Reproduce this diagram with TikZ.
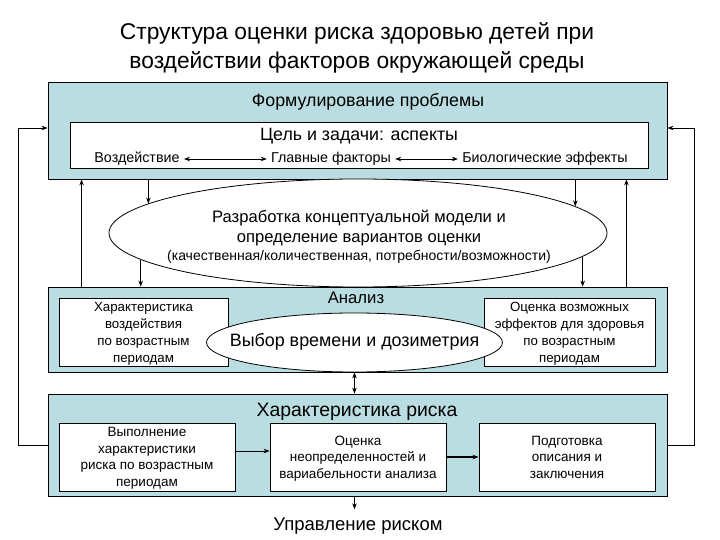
\documentclass[tikz,border=0pt]{standalone}
\usepackage{fontspec}
\setmainfont{Liberation Sans}
\usetikzlibrary{arrows.meta,shapes.geometric}
\definecolor{panel}{RGB}{185,221,224}

\begin{document}
\begin{tikzpicture}[x=1pt, y=-1pt, line width=0.8pt, >={Stealth[length=6pt,width=4.5pt]},
		panelbox/.style={draw, fill=panel, minimum width=619pt, inner sep=0pt},
		whitebox/.style={draw, fill=white, inner sep=0pt, align=center, text depth=0pt, font=\fontsize{13.5}{16.5}\selectfont},
		oval/.style={ellipse, draw, fill=white, inner sep=0pt},
		heading/.style={inner sep=2pt, font=\fontsize{17.8}{21}\selectfont},
		rowtext/.style={inner sep=4pt, font=\fontsize{14.3}{17}\selectfont}]
	\useasboundingbox (0, 0) rectangle (720, 540);
	\draw (357, 47.5) node [align=center, font=\fontsize{22.8}{29}\selectfont] (title) {Структура оценки риска здоровью детей при\\воздействии факторов окружающей среды};
	\draw (357.5, 130.5) node [panelbox, minimum height=97pt] (problem) {};
	\draw (368, 102) node [heading] (problemtitle) {Формулирование проблемы};
	\draw (359, 145) node [whitebox, minimum width=578pt, minimum height=46pt] (goals) {};
	\draw (359, 136) node [heading] (goalstitle) {Цель и задачи: аспекты};
	\draw (137, 159) node [rowtext] (exposure) {Воздействие};
	\draw (331, 159) node [rowtext] (factors) {Главные факторы};
	\draw (545, 159) node [rowtext] (bioeffects) {Биологические эффекты};
	\path [<->] (exposure) edge (factors);
	\path [<->] (factors) edge (bioeffects);
	\draw (358, 233) node [oval, minimum width=498pt, minimum height=108pt] (model) {};
	\draw (359, 237) node [align=center, font=\fontsize{16.6}{19.5}\selectfont] (modeltext) {Разработка концептуальной модели и\\определение вариантов оценки\\[-1pt]{\fontsize{14}{16}\selectfont(качественная/количественная, потребности/возможности)}};
	\path [->] (model.172.5 |- problem.south) edge (model.172.5);
	\path [->] (model.7.5 |- problem.south) edge (model.7.5);
	\draw (357.5, 329.5) node [panelbox, minimum height=85pt] (analysis) {};
	\path [->] (model.187.5) edge (model.187.5 |- analysis.north);
	\path [->] (model.354) edge (model.354 |- analysis.north);
	\path [->] ([xshift=34pt]analysis.north west) edge ([xshift=34pt]problem.south west);
	\path [->] ([xshift=-41pt]analysis.north east) edge ([xshift=-41pt]problem.south east);
	\draw (356, 298) node [heading, font=\fontsize{16.7}{20}\selectfont] (analysistitle) {Анализ};
	\draw (143.5, 332) node [whitebox, minimum width=169pt, minimum height=68pt, font=\fontsize{13.3}{17}\selectfont] (exposurebox) {Характеристика\\воздействия\\по возрастным\\периодам};
	\draw (569.5, 332) node [whitebox, minimum width=171pt, minimum height=68pt, font=\fontsize{13.3}{17}\selectfont] (healthbox) {Оценка возможных\\эффектов для здоровья\\по возрастным\\периодам};
	\draw (354.5, 342.5) node [oval, minimum width=296pt, minimum height=59pt] (timing) {};
	\draw (354.5, 342) node [font=\fontsize{17.9}{21}\selectfont] (timingtext) {Выбор времени и дозиметрия};
	\draw (357.5, 445) node [panelbox, minimum height=102pt] (risk) {};
	\draw (357, 412) node [heading, font=\fontsize{19.4}{22}\selectfont] (risktitle) {Характеристика риска};
	\draw (147, 457) node [whitebox, minimum width=176pt, minimum height=68pt] (riskcalc) {Выполнение\\характеристики\\риска по возрастным\\периодам};
	\draw (358, 457) node [whitebox, minimum width=176pt, minimum height=68pt] (uncertainty) {Оценка\\неопределенностей и\\вариабельности анализа};
	\draw (567, 457) node [whitebox, minimum width=176pt, minimum height=68pt] (summary) {Подготовка\\описания и\\заключения};
	\path [->] ([yshift=6pt]riskcalc.east) edge ([yshift=6pt]uncertainty.west);
	\path [->, line width=1.6pt] (uncertainty) edge (summary);
	\path [<->] (analysis.south -| timing) edge (risk.north -| timing);
	\draw (358, 526) node [heading, inner sep=8pt, font=\fontsize{18.5}{21}\selectfont] (management) {Управление риском};
	\path [->] (risk.south -| timing) edge (management.north -| timing);
	\draw [->] (risk.west) -- ++(-29, 0) |- ([yshift=2.5pt]problem.west);
	\draw [->] (risk.east) -- ++(27, 0) |- ([yshift=2.5pt]problem.east);
\end{tikzpicture}
\end{document}
